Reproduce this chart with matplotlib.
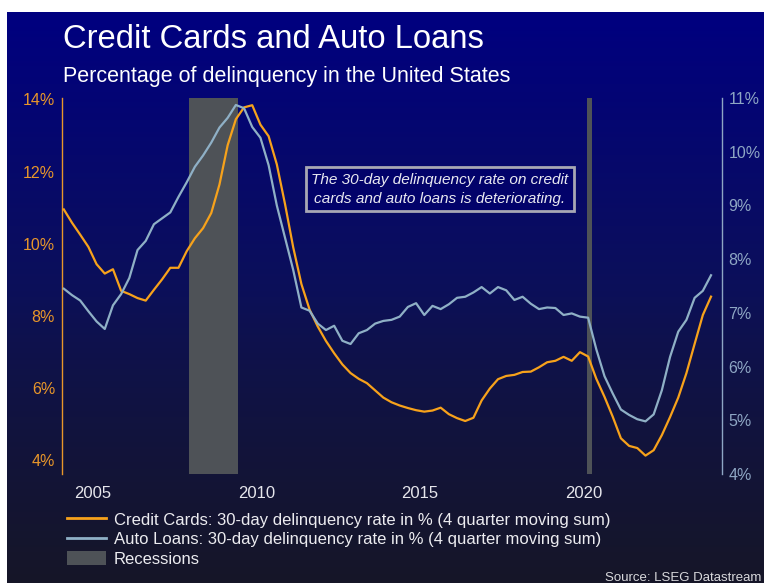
import numpy as np
import matplotlib
matplotlib.use("Agg")
import matplotlib.pyplot as plt
from matplotlib.patches import Patch
from matplotlib.lines import Line2D

plt.rcParams['font.family'] = ['Liberation Sans', 'DejaVu Sans']

# quarterly observations, 2004 Q1 .. 2023 Q4
quarters = 2004.125 + 0.25 * np.arange(80)

credit_cards = [10.95, 10.58, 10.25, 9.91, 9.43, 9.17, 9.29, 8.69, 8.60, 8.49,
                8.42, 8.72, 9.01, 9.33, 9.33, 9.79, 10.15, 10.43, 10.85, 11.64,
                12.73, 13.45, 13.78, 13.84, 13.30, 12.98, 12.20, 11.10, 9.90, 8.88,
                8.17, 7.70, 7.30, 6.96, 6.65, 6.41, 6.25, 6.13, 5.93, 5.73,
                5.60, 5.51, 5.44, 5.38, 5.34, 5.37, 5.45, 5.27, 5.16, 5.08,
                5.17, 5.65, 5.98, 6.24, 6.33, 6.36, 6.44, 6.45, 6.57, 6.71,
                6.75, 6.86, 6.75, 6.99, 6.87, 6.25, 5.75, 5.20, 4.60, 4.39,
                4.33, 4.12, 4.27, 4.69, 5.19, 5.73, 6.41, 7.22, 8.02, 8.53]

auto_loans = [7.45, 7.33, 7.23, 7.03, 6.84, 6.70, 7.14, 7.35, 7.65, 8.17,
              8.34, 8.65, 8.76, 8.87, 9.16, 9.43, 9.72, 9.93, 10.17, 10.45,
              10.63, 10.87, 10.81, 10.46, 10.26, 9.75, 9.00, 8.40, 7.80, 7.10,
              7.04, 6.80, 6.68, 6.76, 6.48, 6.42, 6.62, 6.68, 6.80, 6.85,
              6.87, 6.93, 7.11, 7.18, 6.96, 7.13, 7.07, 7.16, 7.28, 7.30,
              7.38, 7.48, 7.36, 7.48, 7.42, 7.24, 7.30, 7.17, 7.07, 7.10,
              7.09, 6.96, 6.99, 6.93, 6.91, 6.32, 5.82, 5.50, 5.20, 5.10,
              5.02, 4.98, 5.11, 5.56, 6.18, 6.65, 6.87, 7.28, 7.41, 7.70]

recessions = [(2007.95, 2009.43), (2020.10, 2020.24)]

left_ticks = [4, 6, 8, 10, 12, 14]
right_ticks = [4, 5, 6, 7, 8, 9, 10, 11]
year_ticks = [2005, 2010, 2015, 2020]

orange = '#F7A21B'
blue = '#8FB0C6'
rec_gray = '#4E5257'

fig = plt.figure(figsize=(7.64, 5.83), dpi=100, facecolor='white')

# gradient background (white margin on top and left like the screenshot)
bg = fig.add_axes([7 / 764, 0, 1 - 7 / 764, 1 - 12 / 583], zorder=-10)
top = np.array([0x00, 0x00, 0x80]) / 255
mid = np.array([0x0C, 0x10, 0x58]) / 255
bot = np.array([0x16, 0x16, 0x28]) / 255
cols = np.zeros((256, 1, 3))
for k, f in enumerate(np.linspace(0, 1, 256)):
    if f < 0.5:
        cols[k, 0] = top + (mid - top) * (f / 0.5)
    else:
        cols[k, 0] = mid + (bot - mid) * ((f - 0.5) / 0.5) ** 0.8
bg.imshow(cols, aspect='auto', extent=[0, 1, 0, 1], origin='upper')
bg.set_axis_off()

ax = fig.add_axes([62 / 764, 1 - 474 / 583, 660 / 764, 376 / 583])
ax.set_facecolor('none')
for a, b in recessions:
    ax.axvspan(a, b, color=rec_gray, lw=0, zorder=1)
ax.plot(quarters, credit_cards, color=orange, lw=1.6, zorder=3)
ax.set_xlim(2004.07, 2024.21)
ax.set_ylim(3.61, 14.04)
ax.set_yticks(left_ticks)
ax.set_yticklabels([f'{v}%' for v in left_ticks])
ax.set_xticks(year_ticks)
ax.set_xticklabels([str(y) for y in year_ticks])
ax.tick_params(axis='y', length=0, pad=5, labelsize=11.5, labelcolor='#E8962A')
ax.tick_params(axis='x', length=0, pad=9, labelsize=12, labelcolor='#E6E6EC')
for s in ['top', 'right', 'bottom']:
    ax.spines[s].set_visible(False)
ax.spines['left'].set_color('#E8962A')
ax.spines['left'].set_linewidth(1)

ax2 = ax.twinx()
ax2.plot(quarters, auto_loans, color=blue, lw=1.6, zorder=3)
ax2.set_ylim(4.0, 11.0)
ax2.set_yticks(right_ticks)
ax2.set_yticklabels([f'{v}%' for v in right_ticks])
ax2.tick_params(axis='y', length=0, pad=4.5, labelsize=11.5, labelcolor='#8EA6C4')
for s in ['top', 'left', 'bottom']:
    ax2.spines[s].set_visible(False)
ax2.spines['right'].set_color('#8EA6C4')
ax2.spines['right'].set_linewidth(1)

# annotation box
ax2.text(2015.6, 9.30,
         'The 30-day delinquency rate on credit\ncards and auto loans is deteriorating.',
         ha='center', va='center', fontsize=11.1, style='italic', color='#E8E8F0',
         linespacing=1.45, zorder=5,
         bbox=dict(boxstyle='square,pad=0.36', fc='#02026A', ec='#A8A8B4', lw=2))

fig.text(63 / 764, 1 - 39 / 583, 'Credit Cards and Auto Loans', fontsize=23.6,
         color='white', va='center', ha='left')
fig.text(63 / 764, 1 - 76 / 583, 'Percentage of delinquency in the United States',
         fontsize=15.5, color='white', va='center', ha='left')

handles = [Line2D([], [], color=orange, lw=2),
           Line2D([], [], color=blue, lw=2),
           Patch(facecolor=rec_gray, edgecolor='none')]
labels = ['Credit Cards: 30-day delinquency rate in % (4 quarter moving sum)',
          'Auto Loans: 30-day delinquency rate in % (4 quarter moving sum)',
          'Recessions']
leg = fig.legend(handles, labels, loc='upper left', bbox_to_anchor=(67 / 764, 1 - 512 / 583),
                 frameon=False, fontsize=12.0, handlelength=2.35, handletextpad=0.45,
                 labelspacing=0.24, borderpad=0, borderaxespad=0, handleheight=0.9)
for txt in leg.get_texts():
    txt.set_color('#ECECF0')

fig.text(0.997, 1 - 581 / 583, 'Source: LSEG Datastream', fontsize=9.5,
         color='#D8D8DC', ha='right', va='baseline')

fig.savefig('out.png', dpi=100, facecolor=fig.get_facecolor())
